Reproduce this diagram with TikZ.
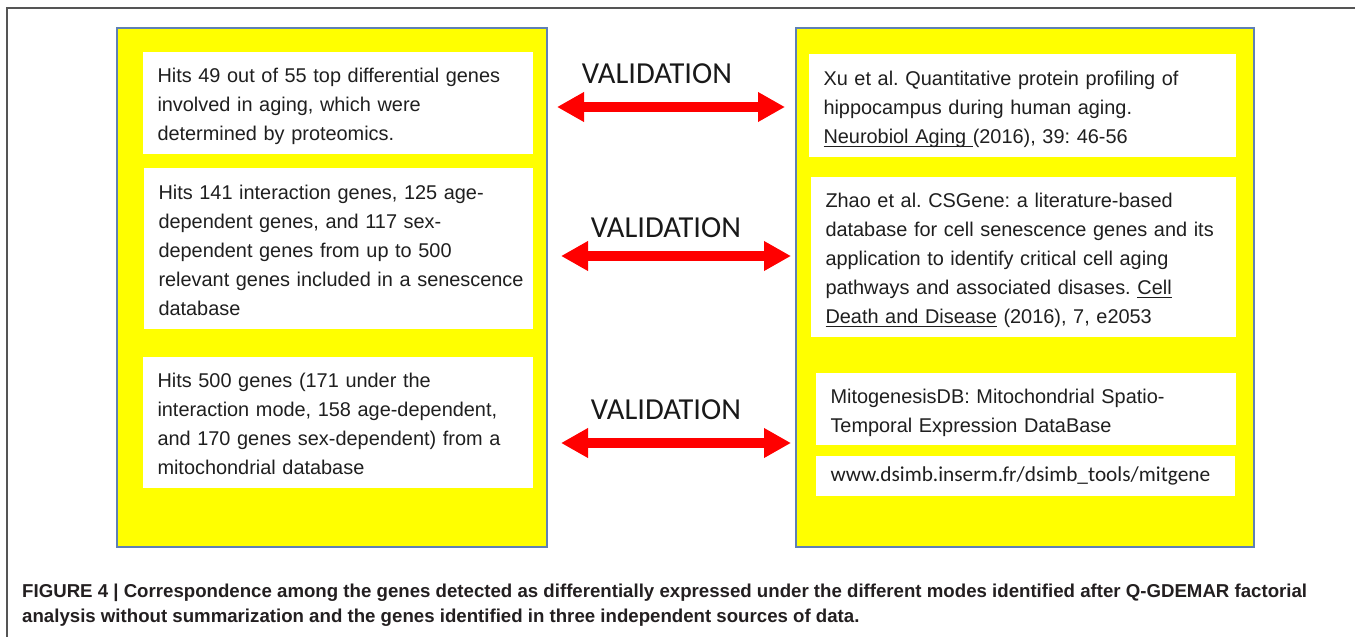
\documentclass[tikz,border=0pt]{standalone}
\usepackage{fontspec}
\setmainfont{Liberation Sans}
\newfontfamily\calfont{Carlito}
\usetikzlibrary{arrows.meta}
\frenchspacing
\newcommand\undl[1]{\setbox0\hbox{#1}\rlap{\rule[-3.6pt]{\wd0}{1pt}}\box0{}}
\newcommand\txtlines[1]{\begin{tabular}{@{}l@{}}\rule{0pt}{26.3pt}#1\end{tabular}}
\definecolor{yel}{RGB}{255,255,0}
\definecolor{bordblue}{RGB}{95,128,180}
\definecolor{framegray}{RGB}{85,85,85}
\definecolor{arrred}{RGB}{255,0,0}
\definecolor{captxt}{RGB}{35,31,32}
\newlength\capw
\settowidth\capw{\fontsize{10}{12}\selectfont\bfseries FIGURE 4 | Correspondence among the genes detected as differentially expressed under the different modes identified after Q-GDEMAR factorial}
\pgfmathsetmacro\capsize{10*1285/\capw}
\begin{document}
\begin{tikzpicture}[x=1pt,y=-1pt,
  panel/.style={draw=bordblue, line width=1.4pt, fill=yel, inner sep=0pt},
  whitebox/.style={fill=white, draw=none, inner xsep=14.5pt, inner ysep=0pt, align=left,
    font=\fontsize{19.9}{29}\selectfont, text=black!88},
  vlab/.style={font=\calfont\fontsize{30.5}{32}\selectfont, text=black!90, inner sep=0pt, anchor=base},
  varrow/.style={draw=arrred, line width=10pt, {Triangle[width=28pt,length=27pt]}-{Triangle[width=28pt,length=27pt]}},
  framerule/.style={draw=framegray, line width=1.3pt},
  captext/.style={font=\fontsize{\capsize}{25}\selectfont\bfseries, text=captxt, inner sep=0pt, anchor=base west}
]
\useasboundingbox (0,0) rectangle (1355,637);
% outer frame
\coordinate (fbl) at (7,637);
\coordinate (ftl) at (7,8);
\coordinate (ftr) at (1355,8);
\draw[framerule] (fbl) -- (ftl) -- (ftr);

% panels
\node[panel, minimum width=430pt, minimum height=519pt] (LP) at (332,287.5) {};
\node[panel, minimum width=458pt, minimum height=519pt] (RP) at (1025,287.5) {};

% left boxes
\node[whitebox, minimum width=390pt, minimum height=102pt, text width=361pt] (L1) at (338,103)
  {\txtlines{Hits 49 out of 55 top differential genes\\ involved in aging, which were\\ determined by proteomics.}};
\node[whitebox, minimum width=389pt, minimum height=161pt, text width=360pt] (L2) at (338.5,248.5)
  {\txtlines{Hits 141 interaction genes, 125 age-\\ dependent genes, and 117 sex-\\ dependent genes from up to 500\\ relevant genes included in a senescence\\ database}};
\node[whitebox, minimum width=390pt, minimum height=131pt, text width=361pt] (L3) at (338,422.5)
  {\txtlines{Hits 500 genes (171 under the\\ interaction mode, 158 age-dependent,\\ and 170 genes sex-dependent) from a\\ mitochondrial database}};

% right boxes
\node[whitebox, minimum width=427pt, minimum height=103pt, text width=398pt] (R1) at (1022.5,105.5)
  {\txtlines{Xu et al. Quantitative protein profiling of\\ hippocampus during human aging.\\ \undl{Neurobiol Aging }(2016), 39: 46-56}};
\node[whitebox, minimum width=425pt, minimum height=160pt, text width=396pt] (R2) at (1023.5,257)
  {\txtlines{Zhao et al. CSGene: a literature-based\\ database for cell senescence genes and its\\ application to identify critical cell aging\\ pathways and associated disases. \undl{Cell}\\ \undl{Death and Disease} (2016), 7, e2053}};
\node[whitebox, minimum width=420pt, minimum height=72pt, text width=391pt] (R3) at (1026,409)
  {\txtlines{MitogenesisDB: Mitochondrial Spatio-\\ Temporal Expression DataBase}};
\node[whitebox, minimum width=419pt, minimum height=40pt, text width=390pt, font=\calfont\fontsize{21.3}{26}\selectfont] (R4) at (1025.5,476)
  {www.dsimb.inserm.fr/dsimb\_tools/mitgene};

% validation labels
\node[vlab] (V1) at (657,83) {VALIDATION};
\node[vlab] (V2) at (666,237) {VALIDATION};
\node[vlab] (V3) at (666,419) {VALIDATION};

% arrows
\coordinate (a1l) at (557,107);
\coordinate (a1r) at (785,107);
\coordinate (a2l) at (561,256);
\coordinate (a2r) at (791,256);
\coordinate (a3l) at (561,443);
\coordinate (a3r) at (791,443);
\draw[varrow] (a1l) -- (a1r);
\draw[varrow] (a2l) -- (a2r);
\draw[varrow] (a3l) -- (a3r);

% caption
\node[captext] (cap1) at (22,597) {FIGURE 4 | Correspondence among the genes detected as differentially expressed under the different modes identified after Q-GDEMAR factorial};
\node[captext] (cap2) at (22,622) {analysis without summarization and the genes identified in three independent sources of data.};
\end{tikzpicture}
\end{document}
